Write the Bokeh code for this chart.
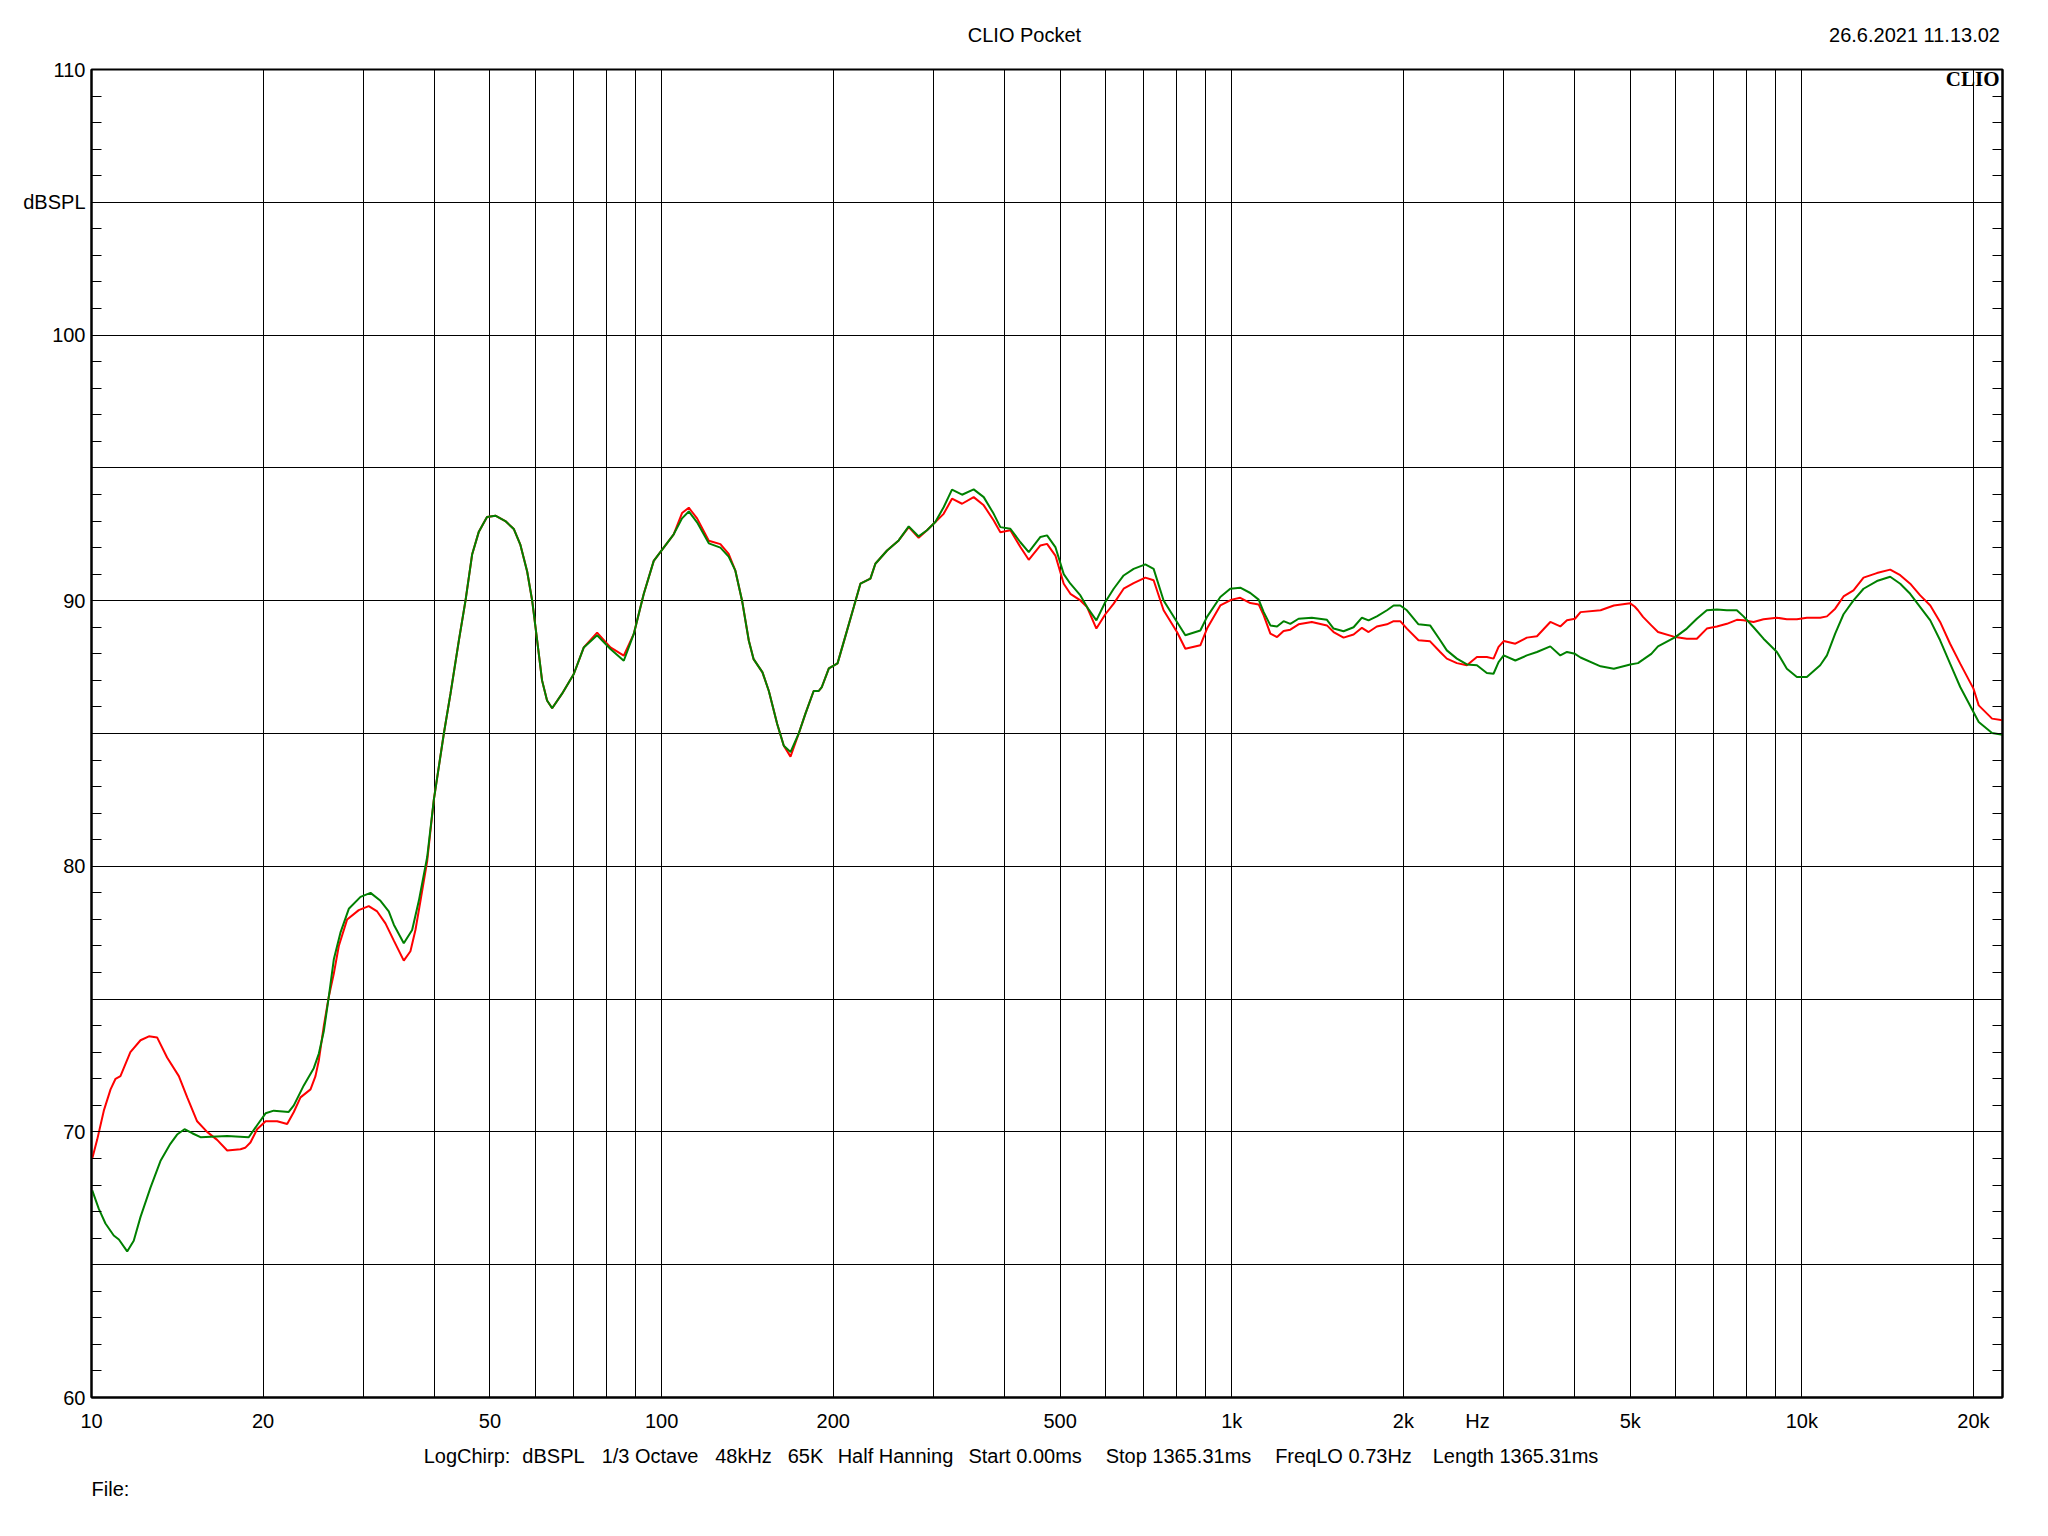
from bokeh.plotting import figure
from bokeh.models import FixedTicker, LinearAxis, LogAxis, Label
from bokeh.embed import file_html
from bokeh.resources import INLINE

# ---------------- data ----------------
red_freq = [10.03, 10.23, 10.51, 10.80, 11.02, 11.24, 11.70, 12.19, 12.61, 13.04, 13.57, 14.23, 14.72,
            15.32, 15.95, 16.61, 17.30, 18.25, 18.6, 19.00, 19.52, 20.20, 21.17, 22.04, 22.64, 23.26,
            24.22, 24.71, 25.05, 25.56, 26.08, 26.61, 27.15, 28.08, 29.43, 30.64, 31.70, 32.78, 33.91,
            35.30, 36.26, 37.00, 37.76, 38.80, 39.85, 41.5, 42.63, 44.09, 45.29, 46.53, 47.8, 49.4,
            51.1, 53.2, 55.04, 56.54, 58.1, 59.29, 60.5, 61.7, 62.96, 64.27, 66.9, 70.14, 73.03, 77.07,
            81.33, 85.83, 89.37, 93.03, 96.87, 100.85, 105.0, 108.6, 111.6, 115.4, 121.0, 126.8, 131.1,
            134.7, 138.4, 142.2, 145.0, 150.3, 154.2, 159.5, 163.8, 168.3, 174.0, 178.7, 184.8, 188.6,
            191.0, 196.5, 203.5, 210.7, 217.3, 223.2, 232.4, 237.1, 248.6, 260.5, 271.3, 282.4, 292.1,
            302.1, 312.4, 323.1, 336.5, 352.7, 367.3, 382.4, 392.8, 409.0, 425.9, 440.5, 461.8, 474.3,
            490.6, 507.4, 521.2, 542.7, 557.5, 578.9, 600.2, 620.8, 646.3, 672.9, 705.4, 729.5, 759.5,
            801.7, 829.2, 881.0, 905.1, 955.0, 1000, 1035, 1078, 1115, 1138, 1169, 1201, 1233, 1267,
            1310, 1382, 1469, 1509, 1571, 1636, 1692, 1738, 1797, 1872, 1923, 1975, 2029, 2126, 2228,
            2321, 2384, 2483, 2585, 2692, 2802, 2879, 2938, 3000, 3144, 3294, 3431, 3621, 3770, 3873,
            4000, 4091, 4436, 4680, 5000, 5090, 5160, 5265, 5445, 5594, 6000, 6284, 6544, 6813, 7096,
            7388, 7691, 7901, 8229, 8566, 9042, 9413, 9802, 10205, 10770, 11067, 11442, 11834, 12320,
            12830, 13540, 14290, 14880, 15490, 16130, 16800, 17480, 18200, 18960, 20000, 20430, 21560,
            22490]
red_db = [69.0, 69.7, 70.8, 71.6, 72.0, 72.1, 73.0, 73.45, 73.6, 73.55, 72.8, 72.1, 71.3,
          70.4, 70.0, 69.7, 69.3, 69.35, 69.4, 69.6, 70.1, 70.4, 70.4, 70.3, 70.75, 71.3,
          71.6, 72.1, 72.7, 74.0, 75.1, 75.96, 77.0, 78.0, 78.35, 78.5, 78.3, 77.85, 77.2,
          76.45, 76.8, 77.6, 78.7, 80.2, 82.5, 85.0, 86.5, 88.5, 90.0, 91.75, 92.6, 93.15,
          93.2, 93.0, 92.7, 92.1, 91.1, 90.0, 88.5, 87.0, 86.24, 85.95, 86.5, 87.24, 88.24, 88.8,
          88.24, 87.93, 88.75, 90.25, 91.5, 92.0, 92.5, 93.3, 93.5, 93.1, 92.26, 92.13, 91.76,
          91.13, 90.0, 88.5, 87.8, 87.3, 86.6, 85.36, 84.54, 84.13, 85.0, 85.74, 86.6, 86.6,
          86.75, 87.45, 87.64, 88.76, 89.76, 90.64, 90.83, 91.39, 91.89, 92.27, 92.77, 92.37, 92.65,
          92.96, 93.27, 93.84, 93.65, 93.9, 93.59, 93.02, 92.58, 92.65, 92.02, 91.54, 92.08, 92.14,
          91.7, 90.64, 90.26, 90.01, 89.76, 88.95, 89.49, 89.89, 90.45, 90.66, 90.87, 90.77, 89.64,
          88.82, 88.19, 88.32, 88.95, 89.82, 90.04, 90.11, 89.91, 89.86, 89.45, 88.76, 88.63, 88.86, 88.91,
          89.11, 89.2, 89.07, 88.82, 88.61, 88.73, 88.98, 88.82, 89.03, 89.11, 89.23, 89.23, 88.95, 88.51, 88.47,
          88.07, 87.82, 87.65, 87.57, 87.88, 87.88, 87.82, 88.26, 88.48, 88.38, 88.61, 88.66, 89.2, 89.03, 89.26,
          89.32, 89.57, 89.64, 89.82, 89.9, 89.78, 89.64, 89.39, 89.07, 88.82, 88.63, 88.57, 88.57, 88.95, 89.03,
          89.13, 89.28, 89.26, 89.2, 89.3, 89.36, 89.3, 89.3, 89.36, 89.36, 89.41, 89.7, 90.16, 90.39,
          90.87, 91.04, 91.17, 90.96, 90.64, 90.2, 89.82, 89.2, 88.38, 87.63, 86.69, 86.06, 85.56,
          85.5]

green_freq = [10.03, 10.30, 10.58, 10.94, 11.17, 11.55, 11.86, 12.19, 12.69, 13.21, 13.75, 14.13, 14.56,
              15.02, 15.53, 17.30, 18.87, 19.52, 20.20, 20.88, 22.18, 22.64, 23.57, 24.54, 25.05, 25.56,
              26.08, 26.61, 27.33, 28.27, 29.64, 30.86, 32.13, 33.22, 33.91, 35.30, 36.51, 37.51, 38.80,
              39.85, 41.5, 42.63, 44.09, 45.29, 46.53, 47.8, 49.4, 51.1, 53.2, 55.04, 56.54, 58.1, 59.29,
              60.5, 61.7, 62.96, 64.27, 66.9, 70.14, 73.03, 77.07, 81.33, 85.83, 89.37, 93.03, 96.87,
              100.85, 105.0, 108.6, 111.6, 115.4, 121.0, 126.8, 131.1, 134.7, 138.4, 142.2, 145.0, 150.3,
              154.2, 159.5, 163.8, 168.3, 174.0, 178.7, 184.8, 188.6, 191.0, 196.5, 203.5, 210.7, 217.3,
              223.2, 232.4, 237.1, 248.6, 260.5, 271.3, 282.4, 292.1, 302.1, 312.4, 323.1, 336.5, 352.7,
              367.3, 382.4, 392.8, 409.0, 425.9, 440.5, 461.8, 474.3, 490.6, 507.4, 521.2, 542.7, 557.5,
              578.9, 600.2, 620.8, 646.3, 672.9, 705.4, 729.5, 759.5, 801.7, 829.2, 881.0, 905.1, 955.0,
              994, 1035, 1078, 1115, 1138, 1169, 1201, 1233, 1267, 1310, 1382, 1469, 1509, 1571, 1636,
              1692, 1738, 1797, 1872, 1923, 1975, 2029, 2126, 2228, 2321, 2384, 2483, 2585, 2692, 2802,
              2879, 2938, 3000, 3144, 3294, 3431, 3621, 3770, 3873, 4000, 4091, 4436, 4680, 5000, 5160,
              5265, 5445, 5594, 6000, 6284, 6544, 6813, 7096, 7388, 7691, 7901, 8229, 8566, 9042, 9413,
              9802, 10205, 10770, 11067, 11442, 11834, 12320, 12830, 13540, 14290, 14880, 15490, 16130,
              16800, 17480, 18200, 18960, 20000, 20430, 21560, 22490]
green_db = [67.8, 67.1, 66.55, 66.1, 65.95, 65.5, 65.9, 66.8, 67.9, 68.9, 69.55, 69.9, 70.1,
            69.95, 69.8, 69.85, 69.8, 70.25, 70.7, 70.8, 70.75, 71.0, 71.75, 72.4, 72.95, 73.8,
            75.1, 76.5, 77.5, 78.4, 78.85, 79.0, 78.7, 78.3, 77.8, 77.1, 77.6, 78.7, 80.35,
            82.5, 85.0, 86.5, 88.5, 90.0, 91.75, 92.6, 93.15, 93.2, 93.0, 92.7, 92.1, 91.1, 90.0,
            88.5, 87.0, 86.24, 85.95, 86.5, 87.24, 88.24, 88.7, 88.18, 87.74, 88.75, 90.25, 91.5,
            92.0, 92.5, 93.1, 93.36, 92.95, 92.16, 92.0, 91.66, 91.13, 90.0, 88.5, 87.8, 87.3,
            86.6, 85.36, 84.54, 84.3, 85.0, 85.74, 86.6, 86.6, 86.75, 87.45, 87.64, 88.76, 89.76,
            90.64, 90.83, 91.39, 91.89, 92.27, 92.8, 92.42, 92.65, 92.96, 93.52, 94.18, 93.99, 94.19,
            93.9, 93.27, 92.77, 92.71, 92.2, 91.83, 92.4, 92.46, 92.02, 91.0, 90.64, 90.2, 89.76,
            89.26, 89.95, 90.45, 90.95, 91.2, 91.37, 91.2, 90.01, 89.2, 88.7, 88.88, 89.39, 90.14,
            90.45, 90.49, 90.29, 90.04, 89.57, 89.07, 89.03, 89.23, 89.13, 89.32, 89.36, 89.28, 88.95, 88.85, 89.0,
            89.36, 89.26, 89.41, 89.64, 89.82, 89.82, 89.64, 89.11, 89.07, 88.51, 88.13, 87.82, 87.6, 87.57, 87.28,
            87.25, 87.69, 87.94, 87.75, 87.94, 88.07, 88.28, 87.94, 88.07, 88.0, 87.86, 87.53, 87.44, 87.6, 87.65,
            87.78, 88.0, 88.28, 88.63, 88.95, 89.32, 89.64, 89.67, 89.64, 89.64, 89.41, 89.0, 88.57, 88.07, 87.44,
            87.13, 87.13, 87.57, 87.94, 88.76, 89.49, 90.01, 90.45, 90.74, 90.9, 90.64, 90.26, 89.76,
            89.26, 88.51, 87.63, 86.75, 85.81, 85.43, 85.02, 84.95]

x_tick_values = [10, 20, 50, 100, 200, 500, 1000, 2000, 5000, 10000, 20000]
x_tick_labels = ["10", "20", "50", "100", "200", "500", "1k", "2k", "5k", "10k", "20k"]
x_grid_values = [20, 30, 40, 50, 60, 70, 80, 90, 100, 200, 300, 400, 500, 600, 700, 800, 900,
                 1000, 2000, 3000, 4000, 5000, 6000, 7000, 8000, 9000, 10000, 20000]
y_tick_values = [60, 70, 80, 90, 100, 105, 110]
y_tick_labels = ["60", "70", "80", "90", "100", "dBSPL", "110"]
y_grid_values = [65, 70, 75, 80, 85, 90, 95, 100, 105]
y_minor_values = list(range(60, 111))

title_text = "CLIO Pocket"
date_text = "26.6.2021 11.13.02"
logo_text = "CLIO"
unit_text = "Hz"
info_texts = ["LogChirp:", "dBSPL", "1/3 Octave", "48kHz", "65K", "Half Hanning",
              "Start 0.00ms", "Stop 1365.31ms", "FreqLO 0.73Hz", "Length 1365.31ms"]
file_text = "File:"

FONT = "Liberation Sans"
FS = "20px"

# ---------------- layout constants ----------------
X_MIN, X_MAX = 10, 22490
FRAME_L, FRAME_W, FRAME_H = 91, 1911, 1328


def px_to_freq(px):
    """page x pixel -> frequency, used only to anchor text blocks"""
    import math
    dec = math.log10(X_MAX / X_MIN)
    return round(X_MIN * 10 ** ((px - FRAME_L) / FRAME_W * dec), 3)


# ---------------- figure ----------------
p = figure(frame_width=FRAME_W, frame_height=FRAME_H,
           x_axis_type="log", x_range=(X_MIN, X_MAX), y_range=(60, 110),
           output_backend="svg", toolbar_location=None,
           min_border_left=FRAME_L, min_border_right=36, min_border_top=69, min_border_bottom=121,
           background_fill_color="white", border_fill_color="white")

p.outline_line_color = "black"
p.outline_line_width = 2

hz_pos = px_to_freq(1477)
xa = p.xaxis[0]
xa.ticker = FixedTicker(ticks=x_tick_values + [hz_pos], minor_ticks=[])
ov = {v: t for v, t in zip(x_tick_values, x_tick_labels)}
ov[hz_pos] = unit_text
xa.major_label_overrides = ov
xa.major_tick_in = 0
xa.major_tick_out = 0
xa.minor_tick_in = 0
xa.minor_tick_out = 0
xa.major_label_standoff = 12
xa.major_label_text_font = FONT
xa.major_label_text_font_size = FS
xa.major_label_text_color = "black"
xa.axis_line_color = "black"
xa.axis_line_width = 2

ya = p.yaxis[0]
ya.ticker = FixedTicker(ticks=y_tick_values, minor_ticks=y_minor_values)
ya.major_label_overrides = {v: t for v, t in zip(y_tick_values, y_tick_labels)}
ya.major_tick_in = 0
ya.major_tick_out = 0
ya.minor_tick_in = 10
ya.minor_tick_out = 0
ya.minor_tick_line_color = "black"
ya.major_label_standoff = 6
ya.major_label_text_font = FONT
ya.major_label_text_font_size = FS
ya.major_label_text_color = "black"
ya.axis_line_color = "black"
ya.axis_line_width = 2

ra = LinearAxis(ticker=FixedTicker(ticks=y_tick_values, minor_ticks=y_minor_values),
                major_label_overrides={v: "" for v in y_tick_values},
                major_tick_in=0, major_tick_out=0, minor_tick_in=10, minor_tick_out=0,
                minor_tick_line_color="black", major_label_standoff=0,
                axis_line_color="black", axis_line_width=2)
p.add_layout(ra, "right")


def text_axis(place, texts, centers_px, standoff):
    ticks = [px_to_freq(c) for c in centers_px]
    ax = LogAxis(ticker=FixedTicker(ticks=ticks, minor_ticks=[]),
                 major_label_overrides={t: s for t, s in zip(ticks, texts)},
                 major_tick_in=0, major_tick_out=0, minor_tick_in=0, minor_tick_out=0,
                 axis_line_color=None, major_label_standoff=standoff,
                 major_label_text_font=FONT, major_label_text_font_size=FS,
                 major_label_text_color="black")
    p.add_layout(ax, place)


# header row: title centred, date at the right
text_axis("above", [title_text, date_text], [1024, 1914], 24)
# measurement settings row
info_centers = [466.5, 553, 649.5, 743, 805, 895, 1024.6, 1178, 1343, 1515]
text_axis("below", info_texts, info_centers, 10)
# file row
text_axis("below", [file_text], [110], 8)

p.xgrid.ticker = FixedTicker(ticks=x_grid_values, minor_ticks=[])
p.ygrid.ticker = FixedTicker(ticks=y_grid_values, minor_ticks=[])
for g in (p.xgrid[0], p.ygrid[0]):
    g.grid_line_color = "black"
    g.grid_line_width = 1
    g.grid_line_alpha = 1.0

p.line(red_freq, red_db, line_color="#ff0000", line_width=2)
p.line(green_freq, green_db, line_color="#008000", line_width=2)

# logo inside the top-right corner of the frame (screen units relative to the frame)
p.add_layout(Label(x=FRAME_W - 3, y=FRAME_H - 9, x_units="screen", y_units="screen",
                   text=logo_text, text_font="Liberation Serif", text_font_size="21px",
                   text_font_style="bold", text_color="black",
                   text_align="right", text_baseline="middle"))

open("out.html", "w").write(file_html(p, INLINE))
